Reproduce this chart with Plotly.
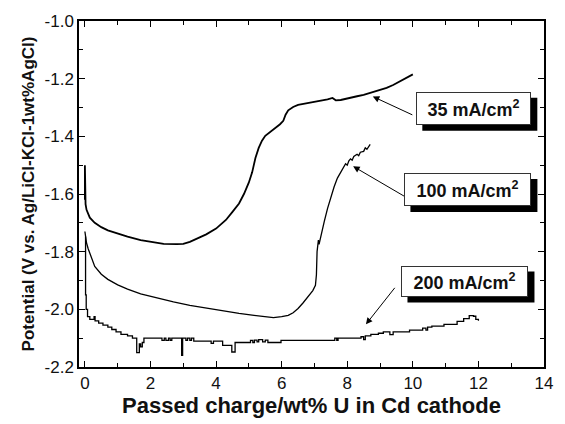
import plotly.graph_objects as go

# ---- data ----
x35 = [0.0, 0.0, 0.02, 0.05, 0.15, 0.3, 0.5, 0.7, 1.0, 1.3, 1.7, 2.0, 2.4, 2.8, 3.0, 3.2,
       3.4, 3.7, 4.0, 4.3, 4.5, 4.7, 4.85, 5.0, 5.1, 5.2, 5.3, 5.4, 5.5, 5.65, 5.8, 5.95,
       6.05, 6.12, 6.2, 6.35, 6.5, 6.8, 7.1, 7.4, 7.55, 7.65, 7.8, 8.0, 8.3, 8.5, 8.8, 9.0,
       9.2, 9.4, 9.6, 9.8, 10.0]
y35 = [-1.62, -1.50, -1.635, -1.655, -1.682, -1.70, -1.715, -1.726, -1.738, -1.748, -1.760,
       -1.766, -1.773, -1.774, -1.773, -1.766, -1.755, -1.74, -1.72, -1.69, -1.662, -1.633,
       -1.60, -1.56, -1.525, -1.475, -1.44, -1.415, -1.398, -1.385, -1.372, -1.358, -1.346,
       -1.325, -1.31, -1.298, -1.291, -1.285, -1.279, -1.272, -1.267, -1.275, -1.274, -1.268,
       -1.261, -1.256, -1.246, -1.24, -1.232, -1.222, -1.21, -1.197, -1.185]

x100 = [0.0, 0.02, 0.05, 0.1, 0.15, 0.2, 0.3, 0.5, 0.7, 1.0, 1.3, 1.7, 2.2, 2.7, 3.2, 3.7,
        4.2, 4.7, 5.1, 5.5, 5.75, 6.0, 6.2, 6.35, 6.5, 6.65, 6.8, 6.95, 7.03, 7.06, 7.08,
        7.1, 7.12, 7.14, 7.2, 7.3, 7.4, 7.5, 7.6, 7.7, 7.8, 7.9, 7.95, 8.0, 8.05, 8.1, 8.15,
        8.2, 8.3, 8.35, 8.4, 8.5, 8.55, 8.6, 8.7]
y100 = [-1.73, -1.75, -1.77, -1.79, -1.807, -1.825, -1.851, -1.878, -1.896, -1.915, -1.930,
        -1.946, -1.961, -1.974, -1.986, -1.996, -2.006, -2.014, -2.020, -2.026, -2.029,
        -2.025, -2.021, -2.012, -1.997, -1.978, -1.955, -1.935, -1.917, -1.88, -1.80, -1.77,
        -1.76, -1.775, -1.74, -1.695, -1.65, -1.61, -1.575, -1.545, -1.525, -1.51, -1.495,
        -1.50, -1.485, -1.478, -1.483, -1.47, -1.462, -1.467, -1.455, -1.452, -1.44, -1.445,
        -1.428]

x200 = [0.0, 0.02, 0.04, 0.08, 0.15, 0.28, 0.31, 0.42, 0.55, 0.7, 0.82, 0.95, 1.1, 1.3, 1.45,
        1.58, 1.66, 1.7, 1.75, 1.8, 2.35, 2.42, 2.47, 2.55, 2.6, 2.65, 2.95, 2.98, 3.08, 3.13,
        3.2, 3.25, 3.32, 3.85, 3.92, 4.2, 4.48, 4.58, 5.05, 5.12, 5.17, 5.25, 5.3, 5.42, 5.5,
        5.58, 5.98, 7.62, 7.68, 7.72, 8.42, 8.5, 8.55, 8.72, 8.95, 9.1, 9.3, 9.4, 9.9, 10.3,
        10.4, 10.45, 10.58, 10.95, 11.35, 11.55, 11.72, 11.85, 11.92, 12.0]
y200 = [-1.75, -1.95, -2.00, -2.025, -2.035, -2.025, -2.04, -2.048, -2.055, -2.062, -2.07,
        -2.078, -2.087, -2.092, -2.1, -2.15, -2.12, -2.13, -2.115, -2.1, -2.108, -2.1, -2.108,
        -2.1, -2.108, -2.1, -2.16, -2.1, -2.108, -2.1, -2.108, -2.1, -2.11, -2.118, -2.11,
        -2.125, -2.148, -2.115, -2.108, -2.115, -2.107, -2.113, -2.105, -2.113, -2.107,
        -2.115, -2.108, -2.1, -2.108, -2.1, -2.095, -2.105, -2.092, -2.087, -2.083, -2.078,
        -2.088, -2.078, -2.072, -2.065, -2.072, -2.062, -2.058, -2.052, -2.042, -2.032,
        -2.022, -2.024, -2.035, -2.04]

labels = ["35 mA/cm<sup>2</sup>", "100 mA/cm<sup>2</sup>", "200 mA/cm<sup>2</sup>"]
x_ticks = [0, 2, 4, 6, 8, 10, 12, 14]
y_ticks = [-2.2, -2.0, -1.8, -1.6, -1.4, -1.2, -1.0]

FONT = "Liberation Sans, Arial, Helvetica, sans-serif"

fig = go.Figure()
fig.add_trace(go.Scatter(x=x35, y=y35, mode="lines", line=dict(color="black", width=1.8)))
fig.add_trace(go.Scatter(x=x100, y=y100, mode="lines", line=dict(color="black", width=1.3)))
fig.add_trace(go.Scatter(x=x200, y=y200, mode="lines", line=dict(color="black", width=1.3, shape="hv")))

# arrows: tip in data coords, tail offset in px
arrows = [(8.78, -1.262, 41, 19), (8.18, -1.504, 53, 31), (8.57, -2.052, 30, -38)]
for (ax_, ay_, dx, dy) in arrows:
    fig.add_annotation(x=ax_, y=ay_, ax=dx, ay=dy, text="", showarrow=True,
                       arrowhead=2, arrowsize=1.3, arrowwidth=1, arrowcolor="black", standoff=0)

# boxes: center in data coords, size in px; shadow drawn as pixel-sized shape
boxes = [(11.86, -1.3025, 115, 33), (11.68, -1.584, 127, 33), (11.59, -1.902, 127, 31)]
SH = 6
for lab, (bx, by, w, h) in zip(labels, boxes):
    fig.add_shape(type="rect", xref="x", yref="y", xsizemode="pixel", ysizemode="pixel",
                  xanchor=bx, yanchor=by, x0=-w / 2 + SH, x1=w / 2 + SH,
                  y0=-h / 2 - SH, y1=h / 2 - SH, fillcolor="black", line=dict(width=0),
                  layer="above")
    fig.add_annotation(x=bx, y=by, text=lab, showarrow=False, width=w - 2, height=h - 2,
                       bgcolor="white", bordercolor="#333", borderwidth=1, borderpad=0,
                       font=dict(family=FONT, size=18, color="#111", weight="bold"))

axis_common = dict(showline=True, linecolor="black", linewidth=1.5, mirror="allticks",
                   ticks="inside", ticklen=6, tickwidth=1.2, tickcolor="black",
                   showgrid=False, zeroline=False,
                   tickfont=dict(family=FONT, size=17, color="#111"))

fig.update_xaxes(range=[-0.18, 14], tickvals=x_ticks, ticktext=[str(v) for v in x_ticks],
                 minor=dict(dtick=1, tick0=0, ticks="inside", ticklen=4, tickcolor="black", tickwidth=1),
                 title=dict(text="Passed charge/wt% U in Cd cathode", standoff=3,
                            font=dict(family=FONT, size=22, color="#111", weight="bold")),
                 **axis_common)
fig.update_yaxes(range=[-2.2, -1.0], tickvals=y_ticks, ticktext=[f"{v:.1f}" for v in y_ticks],
                 minor=dict(dtick=0.1, tick0=-2.2, ticks="inside", ticklen=4, tickcolor="black", tickwidth=1),
                 title=dict(text="Potential (V vs. Ag/LiCl-KCl-1wt%AgCl)", standoff=6,
                            font=dict(family=FONT, size=17, color="#111", weight="bold")),
                 **axis_common)

fig.update_layout(width=565, height=424, margin=dict(l=79, r=15, t=20, b=47),
                  paper_bgcolor="white", plot_bgcolor="white", showlegend=False)

fig.write_html("out.html")
